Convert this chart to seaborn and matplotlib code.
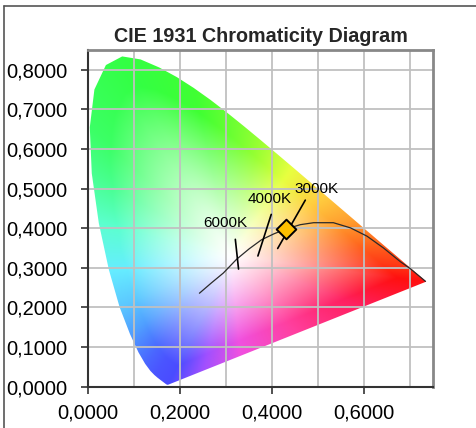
import numpy as np
import pandas as pd
import matplotlib
matplotlib.use("Agg")
import matplotlib.pyplot as plt
from matplotlib.path import Path
from matplotlib.patches import PathPatch
from matplotlib.colors import to_rgb
from matplotlib.ticker import MultipleLocator, FuncFormatter
import seaborn as sns

# CIE 1931 spectral locus (x, y)
locus_x = [0.1741, 0.1733, 0.1714, 0.1689, 0.1644, 0.1566, 0.1510, 0.1440, 0.1355,
           0.1241, 0.1096, 0.0913, 0.0687, 0.0454, 0.0235, 0.0082, 0.0039, 0.0139,
           0.0389, 0.0743, 0.1142, 0.1547, 0.1929, 0.2296, 0.2658, 0.3016, 0.3373,
           0.3731, 0.4087, 0.4441, 0.4788, 0.5125, 0.5448, 0.5752, 0.6029, 0.6270,
           0.6482, 0.6658, 0.6915, 0.7079, 0.7190, 0.7260, 0.7300, 0.7334, 0.7347]
locus_y = [0.0050, 0.0048, 0.0051, 0.0069, 0.0109, 0.0177, 0.0227, 0.0297, 0.0399,
           0.0578, 0.0868, 0.1327, 0.2007, 0.2950, 0.4127, 0.5384, 0.6548, 0.7502,
           0.8120, 0.8338, 0.8262, 0.8059, 0.7816, 0.7543, 0.7243, 0.6923, 0.6589,
           0.6245, 0.5896, 0.5547, 0.5202, 0.4866, 0.4544, 0.4242, 0.3965, 0.3725,
           0.3514, 0.3340, 0.3083, 0.2920, 0.2809, 0.2740, 0.2700, 0.2666, 0.2653]

# Planckian (black body) curve as drawn
planck_x = [0.242, 0.268, 0.294, 0.323, 0.350, 0.377, 0.404, 0.430, 0.461, 0.490,
            0.533, 0.570, 0.606, 0.642, 0.678, 0.700, 0.733]
planck_y = [0.236, 0.262, 0.287, 0.322, 0.348, 0.371, 0.386, 0.398, 0.409, 0.414,
            0.414, 0.401, 0.380, 0.350, 0.316, 0.298, 0.266]

# Isotherm ticks and their labels
iso_labels = ["6000K", "4000K", "3000K"]
iso_x0 = [0.320, 0.398, 0.472]
iso_y0 = [0.372, 0.435, 0.471]
iso_x1 = [0.327, 0.369, 0.412]
iso_y1 = [0.297, 0.330, 0.349]
label_x = [0.298, 0.394, 0.497]
label_y = [0.414, 0.473, 0.500]

# Marked point (3000K)
point_x = [0.430]
point_y = [0.398]

x_ticks = [0.0, 0.2, 0.4, 0.6]
y_ticks = [0.0, 0.1, 0.2, 0.3, 0.4, 0.5, 0.6, 0.7, 0.8]

# Edge colours of the gamut fill (style), placed around the boundary
edge_x = [0.1741, 0.1440, 0.1241, 0.0913, 0.0687, 0.0454, 0.0235, 0.0082, 0.0039,
          0.0743, 0.2296, 0.3731, 0.4441, 0.5125, 0.5752, 0.6270, 0.6915, 0.7347,
          0.60, 0.45, 0.33, 0.25]
edge_y = [0.0050, 0.0297, 0.0578, 0.1327, 0.2007, 0.2950, 0.4127, 0.5384, 0.6548,
          0.8338, 0.7543, 0.6245, 0.5547, 0.4866, 0.4242, 0.3725, 0.3083, 0.2653,
          0.20, 0.135, 0.08, 0.045]
edge_c = ['#4a4cff', '#4a55ff', '#4a66ff', '#50a0ff', '#5cc8ff', '#66eeff', '#5cffd0',
          '#48ff90', '#3cff66', '#33ff44', '#40ff33', '#99ff33', '#e8ff40', '#ffd040',
          '#ffa030', '#ff7020', '#ff3a15', '#ff1010', '#ff2060', '#ff40a0', '#f050e0',
          '#a050ff']
white_x, white_y = 0.31, 0.33

sns.set_style("white")
plt.rcParams['font.family'] = ['Liberation Sans', 'DejaVu Sans']

fig = plt.figure(figsize=(4.76, 4.28), dpi=100)
ax = fig.add_axes([88/476, 1 - 386.7/428, (433.3-88)/476, (386.7-50)/428])

# Colour rendering of the gamut
nx, ny = 450, 510
gx = np.linspace(0, 0.75, nx)
gy = np.linspace(0, 0.85, ny)
X, Y = np.meshgrid(gx, gy)
ang = np.arctan2(Y - white_y, X - white_x)
dist = np.hypot(X - white_x, Y - white_y)

bx = np.array(locus_x)
by = np.array(locus_y)
ts = np.linspace(0, 1, 30)[1:-1]
bx = np.concatenate([bx, bx[-1] + (bx[0] - bx[-1]) * ts])
by = np.concatenate([by, by[-1] + (by[0] - by[-1]) * ts])
b_ang = np.arctan2(by - white_y, bx - white_x)
b_rad = np.hypot(bx - white_x, by - white_y)
R = np.interp(ang, b_ang, b_rad, period=2 * np.pi)
t = np.clip(dist / R, 0, 1)
f = np.clip(t / 0.85, 0, 1) ** 1.2

e_ang = np.arctan2(np.array(edge_y) - white_y, np.array(edge_x) - white_x)
e_rgb = np.array([to_rgb(c) for c in edge_c])
rgb = np.zeros(X.shape + (3,))
for c in range(3):
    edge = np.interp(ang, e_ang, e_rgb[:, c], period=2 * np.pi)
    rgb[:, :, c] = 1 - (1 - edge) * f
rgb = np.clip(rgb, 0, 1)

im = ax.imshow(rgb, origin='lower', extent=[0, 0.75, 0, 0.85], aspect='auto',
               zorder=0, interpolation='bilinear')
verts = list(zip(locus_x, locus_y)) + [(locus_x[0], locus_y[0])]
clip = PathPatch(Path(verts, closed=True), transform=ax.transData, facecolor='none',
                 edgecolor='none')
ax.add_patch(clip)
im.set_clip_path(clip)

# grid
ax.xaxis.set_major_locator(MultipleLocator(0.2))
ax.xaxis.set_minor_locator(MultipleLocator(0.1))
ax.yaxis.set_major_locator(MultipleLocator(0.1))
ax.grid(True, which='both', color='#c0c0c0', linewidth=1.3)
ax.set_axisbelow(False)

# Planckian curve
df_planck = pd.DataFrame({"x": planck_x, "y": planck_y})
sns.lineplot(data=df_planck, x="x", y="y", ax=ax, color='#2a2a2a', linewidth=0.9,
             sort=False, zorder=3)

# Isotherms
for i in range(len(iso_labels)):
    df_iso = pd.DataFrame({"x": [iso_x0[i], iso_x1[i]], "y": [iso_y0[i], iso_y1[i]]})
    sns.lineplot(data=df_iso, x="x", y="y", ax=ax, color='black', linewidth=1.2,
                 sort=False, zorder=3)
    ax.text(label_x[i], label_y[i], iso_labels[i], ha='center', va='center',
            fontsize=11, color='black', zorder=4)

sns.scatterplot(x=point_x, y=point_y, ax=ax, marker='D', s=100, color='#ffc000',
                edgecolor='black', linewidth=1.4, zorder=5)

ax.set_xlim(0, 0.75)
ax.set_ylim(0, 0.85)
ax.set_xticks(x_ticks)
ax.set_yticks(y_ticks)
fmt = FuncFormatter(lambda v, p: f"{v:.4f}".replace('.', ','))
ax.xaxis.set_major_formatter(fmt)
ax.yaxis.set_major_formatter(fmt)
ax.tick_params(axis='both', which='major', direction='out', length=5, width=1.2,
               color='#333333', labelsize=14.5, labelcolor='black',
               bottom=True, left=True)
ax.tick_params(axis='y', which='major', pad=10)
ax.tick_params(axis='x', which='major', pad=7)
ax.tick_params(axis='x', which='minor', length=0)
ax.set_xlabel("")
ax.set_ylabel("")

ax.spines['left'].set_color('#333333')
ax.spines['bottom'].set_color('#333333')
ax.spines['left'].set_linewidth(1.5)
ax.spines['bottom'].set_linewidth(1.5)
ax.spines['right'].set_color('#888888')
ax.spines['top'].set_color('#888888')
ax.spines['right'].set_linewidth(2)
ax.spines['top'].set_linewidth(2)
for s in ax.spines.values():
    s.set_visible(True)
    s.set_zorder(6)

ax.set_title("CIE 1931 Chromaticity Diagram", fontsize=14.2, fontweight='bold', pad=6)

# figure border (top and left only)
fig.add_artist(plt.Line2D([4/476, 1], [1 - 6/428, 1 - 6/428], transform=fig.transFigure,
                          color='#555555', linewidth=1.2))
fig.add_artist(plt.Line2D([4/476, 4/476], [0, 1 - 6/428], transform=fig.transFigure,
                          color='#555555', linewidth=1.2))

fig.savefig("out.png", dpi=100, facecolor='white')
